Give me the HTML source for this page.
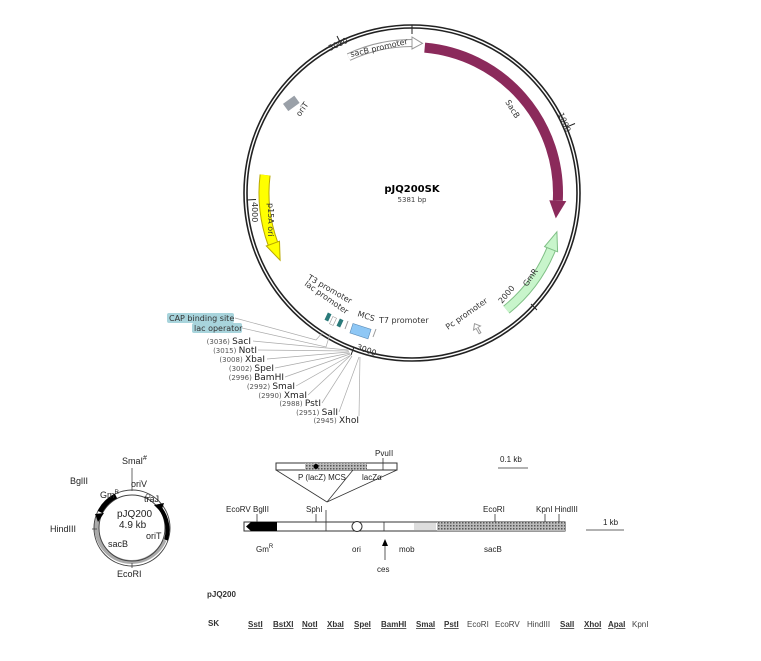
<!DOCTYPE html>
<html><head><meta charset="utf-8"><style>
html,body{margin:0;padding:0;background:#fff;}
svg{display:block;font-family:"Liberation Sans",sans-serif;}
.s{font-family:"DejaVu Sans","Liberation Sans",sans-serif;}
</style></head><body>
<svg width="761" height="661" viewBox="0 0 761 661">
<defs>
<pattern id="h" width="3" height="3" patternUnits="userSpaceOnUse"><rect width="3" height="3" fill="#bbb"/><rect width="1.5" height="1.5" fill="#555"/></pattern>
</defs>
<circle cx="412" cy="193" r="168" fill="none" stroke="#222" stroke-width="1.6"/>
<circle cx="412" cy="193" r="165" fill="none" stroke="#222" stroke-width="1.6"/>
<g stroke="#222" stroke-width="1">
<line x1="412" y1="25" x2="412" y2="34"/>
<line x1="566.6" y1="127.1" x2="575" y2="123.5"/>
<line x1="531" y1="304" x2="537" y2="310"/>
<line x1="354" y1="347" x2="351" y2="355"/>
<line x1="247" y1="200" x2="256" y2="199.5"/>
<line x1="341" y1="44" x2="337" y2="36"/>
</g>
<g class="s" font-size="8" fill="#333">
<text transform="translate(330,51) rotate(-25)">5000</text>
<text transform="translate(558,114) rotate(67)">1000</text>
<text transform="translate(502,304) rotate(-50)">2000</text>
<text x="356" y="349" transform="rotate(20 356 349)">3000</text>
<text transform="translate(252,202) rotate(90)">4000</text>
</g>
<path d="M424.7 47.6 A146 146 0 0 1 557.8 200.6" fill="none" stroke="#8b2a5b" stroke-width="10"/>
<polygon points="549.3,200.2 566.3,201.1 555.8,218.4" fill="#8b2a5b"/>
<path d="M506.4 309.6 A150 150 0 0 0 551.1 249.2" fill="none" stroke="#7fbf85" stroke-width="10"/>
<path d="M506.4 309.6 A150 150 0 0 0 551.1 249.2" fill="none" stroke="#c8f5cb" stroke-width="8"/>
<polygon points="544.6,246.6 557.6,251.8 556.9,231.8" fill="#c8f5cb" stroke="#7fbf85" stroke-width="1"/>
<path d="M265.1 175 A148 148 0 0 0 272.9 243.6" fill="none" stroke="#b9a800" stroke-width="11"/>
<path d="M265.1 175 A148 148 0 0 0 272.9 243.6" fill="none" stroke="#ffff00" stroke-width="9"/>
<polygon points="279.5,241.2 266.3,246 280.1,260.2" fill="#ffff00" stroke="#b9a800" stroke-width="1"/>
<path d="M348.6 57.1 A150 150 0 0 1 412 43" fill="none" stroke="#999" stroke-width="8"/>
<path d="M348.6 57.1 A150 150 0 0 1 412 43" fill="none" stroke="#fff" stroke-width="6"/>
<polygon points="412,49 412,37 422.5,43.4" fill="#fff" stroke="#999" stroke-width="1"/>
<text class="s" font-size="8" fill="#333" transform="translate(351,57) rotate(-13)">sacB promoter</text>
<rect x="287" y="96" width="9" height="14" fill="#9aa0a8" transform="rotate(54 291 103)"/>
<text class="s" font-size="8" fill="#333" transform="translate(300,117) rotate(-55)">oriT</text>
<text class="s" font-size="8" fill="#333" transform="translate(505,102) rotate(58)">SacB</text>
<text class="s" font-size="8" fill="#333" transform="translate(268,203) rotate(90)">p15A ori</text>
<text class="s" font-size="8" fill="#333" transform="translate(527,287) rotate(-55)">GmR</text>
<text x="412" y="192" text-anchor="middle" font-size="10" font-weight="bold" class="s">pJQ200SK</text>
<text x="412" y="202" text-anchor="middle" font-size="7" class="s" fill="#444">5381 bp</text>
<text class="s" font-size="8" fill="#333" transform="translate(307,279) rotate(30)">T3 promoter</text>
<text class="s" font-size="8" fill="#333" transform="translate(304,285) rotate(35)">lac promoter</text>
<text class="s" font-size="8" fill="#333" transform="translate(357,316) rotate(18)">MCS</text>
<text class="s" font-size="8" fill="#333" x="379" y="323">T7 promoter</text>
<text class="s" font-size="8" fill="#333" transform="translate(448,330) rotate(-35)">Pc promoter</text>
<polygon points="473,328 477,323 481,328 478,328 478,334 476,334 476,328" fill="#fff" stroke="#999" transform="rotate(-30 477 328)"/>
<rect x="326" y="313" width="4" height="8" fill="#2a7a7a" transform="rotate(25 328 317)"/>
<rect x="331" y="317" width="4" height="8" fill="#fff" stroke="#999" stroke-width=".6" transform="rotate(25 333 321)"/>
<rect x="338" y="319" width="4" height="8" fill="#2a7a7a" transform="rotate(25 340 323)"/>
<rect x="351" y="326" width="19" height="10" fill="#8ec7f5" stroke="#5a8ab5" stroke-width=".6" transform="rotate(18 360 331)"/>
<path d="M348 321 l-3 8" stroke="#999"/><path d="M373 337 l3 -8" stroke="#999"/>
<rect x="167" y="313" width="67" height="10" fill="#a8d4dc" rx="2"/>
<text x="169" y="321" font-size="8" class="s" fill="#333">CAP binding site</text>
<rect x="192" y="323" width="50" height="10" fill="#a8d4dc" rx="2"/>
<text x="194" y="331" font-size="8" class="s" fill="#333">lac operator</text>
<g stroke="#aaa" stroke-width=".7" fill="none">
<path d="M235 318 L316 340 L323 332"/>
<path d="M242 328 L326 347 L330 334"/>
<line x1="253" y1="341" x2="348" y2="350"/>
<line x1="258" y1="350" x2="349" y2="351"/>
<line x1="267" y1="359" x2="349" y2="352"/>
<line x1="275" y1="368" x2="350" y2="353"/>
<line x1="285" y1="377" x2="350" y2="354"/>
<line x1="296" y1="386" x2="351" y2="355"/>
<line x1="308" y1="395" x2="351" y2="355"/>
<line x1="322" y1="403" x2="352" y2="356"/>
<line x1="339" y1="412" x2="359" y2="357"/>
<line x1="359" y1="416" x2="360" y2="357"/>
</g>
<g font-size="9" class="s" fill="#222" text-anchor="end">
<text x="251" y="344"><tspan font-size="7" fill="#555">(3036) </tspan>SacI</text>
<text x="257" y="353"><tspan font-size="7" fill="#555">(3015) </tspan>NotI</text>
<text x="265" y="362"><tspan font-size="7" fill="#555">(3008) </tspan>XbaI</text>
<text x="274" y="371"><tspan font-size="7" fill="#555">(3002) </tspan>SpeI</text>
<text x="284" y="380"><tspan font-size="7" fill="#555">(2996) </tspan>BamHI</text>
<text x="295" y="389"><tspan font-size="7" fill="#555">(2992) </tspan>SmaI</text>
<text x="307" y="398"><tspan font-size="7" fill="#555">(2990) </tspan>XmaI</text>
<text x="321" y="406"><tspan font-size="7" fill="#555">(2988) </tspan>PstI</text>
<text x="338" y="415"><tspan font-size="7" fill="#555">(2951) </tspan>SalI</text>
<text x="359" y="423"><tspan font-size="7" fill="#555">(2945) </tspan>XhoI</text>
</g>
<path d="M164.5 540 A35.5 35.5 0 0 1 97 534 A35.5 35.5 0 0 1 98 518" fill="none" stroke="#aaa" stroke-width="4"/>
<circle cx="132" cy="528" r="38" fill="none" stroke="#444" stroke-width="1"/>
<circle cx="132" cy="528" r="33" fill="none" stroke="#444" stroke-width="1"/>
<path d="M116 496 A35.5 35.5 0 0 0 100 512" fill="none" stroke="#000" stroke-width="5"/>
<polygon points="95,514 104,513 98,522" fill="#000"/>
<path d="M160 508 A35.5 35.5 0 0 1 166 540" fill="none" stroke="#000" stroke-width="4"/>
<polygon points="154,505 164,503 161,512" fill="#000"/>
<line x1="132" y1="468" x2="132" y2="491" stroke="#444" stroke-width=".8"/>
<line x1="92" y1="529" x2="97" y2="529" stroke="#444" stroke-width=".8"/>
<line x1="132" y1="563" x2="132" y2="568" stroke="#444" stroke-width=".8"/>
<circle cx="148" cy="496" r="2" fill="#fff" stroke="#444" stroke-width=".7"/>
<g font-size="9" fill="#222">
<text x="122" y="464">SmaI<tspan font-size="7" dy="-4">#</tspan></text>
<text x="70" y="484">BglII</text>
<text x="50" y="532">HindIII</text>
<text x="100" y="498">Gm<tspan font-size="6" dy="-4">R</tspan></text>
<text x="131" y="487">oriV</text>
<text x="144" y="502">traJ</text>
<text x="117" y="517" font-size="10">pJQ200</text>
<text x="119" y="528" font-size="10">4.9 kb</text>
<text x="146" y="539">oriT</text>
<text x="108" y="547">sacB</text>
<text x="117" y="577">EcoRI</text>
</g>
<rect x="276" y="463" width="121" height="7" fill="#fff" stroke="#333"/>
<rect x="305" y="463" width="62" height="7" fill="url(#h)"/>
<circle cx="316" cy="466.5" r="2.5" fill="#000"/>
<g stroke="#333" stroke-width=".8">
<line x1="327" y1="502" x2="276" y2="470"/>
<line x1="327" y1="502" x2="353" y2="470"/>
<line x1="327" y1="502" x2="397" y2="470"/>
<line x1="383" y1="458" x2="383" y2="470"/>
<line x1="498" y1="468" x2="528" y2="468"/>
<line x1="586" y1="530" x2="624" y2="530"/>
</g>
<g font-size="8" fill="#222">
<text x="375" y="456">PvuII</text>
<text x="500" y="462">0.1 kb</text>
<text x="298" y="480">P (lacZ)  MCS</text>
<text x="362" y="480">lacZα</text>
<text x="603" y="525">1 kb</text>
<text x="226" y="512">EcoRV BglII</text>
<text x="306" y="512">SphI</text>
<text x="483" y="512">EcoRI</text>
<text x="536" y="512">KpnI HindIII</text>
<text x="256" y="552">Gm<tspan font-size="6" dy="-4">R</tspan></text>
<text x="352" y="552">ori</text>
<text x="399" y="552">mob</text>
<text x="484" y="552">sacB</text>
<text x="377" y="572">ces</text>
</g>
<rect x="244" y="522" width="321" height="9" fill="#fff" stroke="#333"/>
<rect x="437" y="522" width="128" height="9" fill="url(#h)"/>
<rect x="414" y="523" width="22" height="7" fill="#ddd"/>
<polygon points="246,526.5 251,522 277,522 277,531 251,531" fill="#000"/>
<circle cx="357" cy="526.5" r="5" fill="#fff" stroke="#333"/>
<g stroke="#333" stroke-width=".8">
<line x1="326" y1="510" x2="326" y2="531"/>
<line x1="384" y1="522" x2="384" y2="531"/>
<line x1="257" y1="514" x2="257" y2="522"/>
<line x1="316" y1="514" x2="316" y2="522"/>
<line x1="495" y1="514" x2="495" y2="522"/>
<line x1="545" y1="514" x2="545" y2="522"/>
<line x1="559" y1="514" x2="559" y2="522"/>
<line x1="385" y1="560" x2="385" y2="544"/>
</g>
<polygon points="382,546 385,539 388,546" fill="#000"/>
<text x="207" y="597" font-size="8" font-weight="bold" fill="#333">pJQ200</text>
<text x="208" y="626" font-size="8" font-weight="bold" fill="#333">SK</text>
<g font-size="8" fill="#333" font-weight="bold" text-decoration="underline">
<text x="248" y="627">SstI</text><text x="273" y="627">BstXI</text><text x="302" y="627">NotI</text><text x="327" y="627">XbaI</text><text x="354" y="627">SpeI</text><text x="381" y="627">BamHI</text><text x="416" y="627">SmaI</text><text x="444" y="627">PstI</text>
<text x="560" y="627">SalI</text><text x="584" y="627">XhoI</text><text x="608" y="627">ApaI</text>
</g>
<g font-size="8" fill="#444">
<text x="467" y="627">EcoRI</text><text x="495" y="627">EcoRV</text><text x="527" y="627">HindIII</text><text x="632" y="627">KpnI</text>
</g>
</svg>
</body></html>
